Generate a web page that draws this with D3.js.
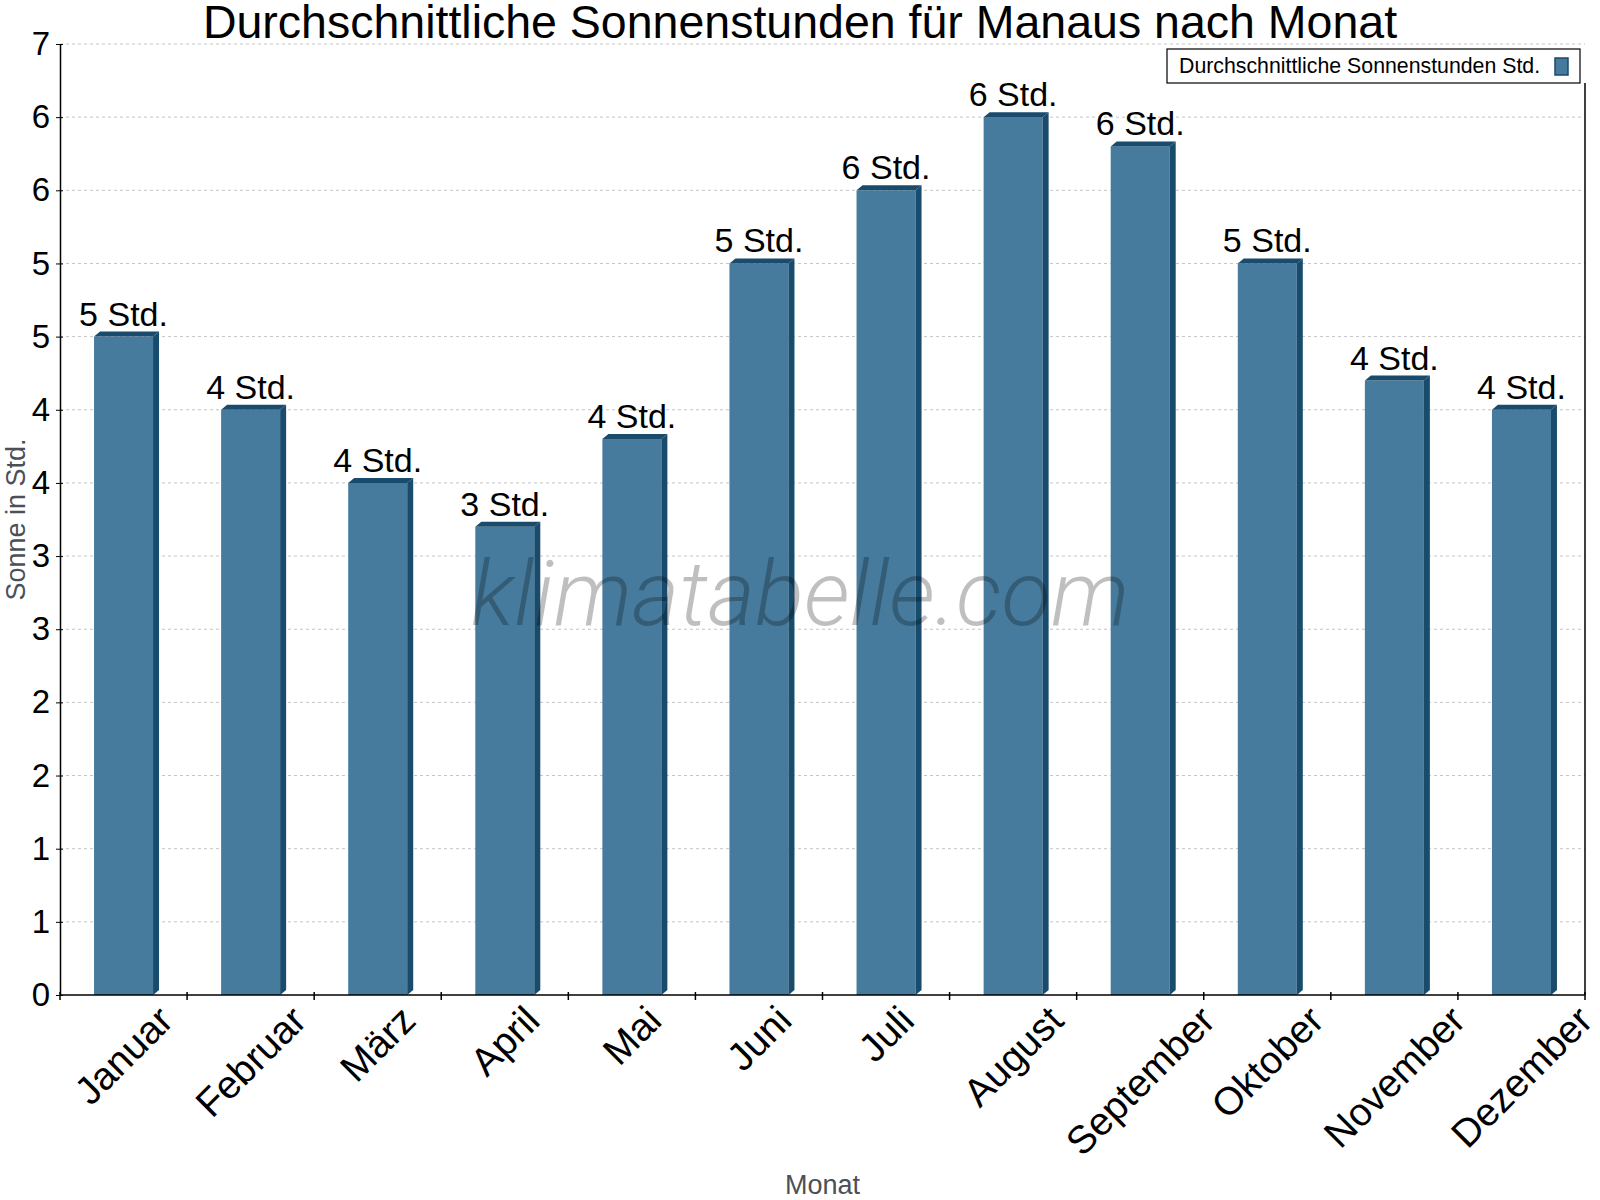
<!DOCTYPE html>
<html>
<head>
<meta charset="utf-8">
<script src="https://cdn.jsdelivr.net/npm/d3@7"></script>
<style>
  body { margin: 0; background: #fff; }
  text { font-family: "Liberation Sans", Arial, sans-serif; }
</style>
</head>
<body>
<svg id="chart"></svg>
<script>
// chart data
const months = ["Januar", "Februar", "März", "April", "Mai", "Juni",
  "Juli", "August", "September", "Oktober", "November", "Dezember"];
const sunHours = [4.5, 4.0, 3.5, 3.2, 3.8, 5.0, 5.5, 6.0, 5.8, 5.0, 4.2, 4.0];
const yTicks = [0, 0.5, 1, 1.5, 2, 2.5, 3, 3.5, 4, 4.5, 5, 5.5, 6, 6.5];
const seriesName = "Durchschnittliche Sonnenstunden Std.";

const width = 1600;
const height = 1200;
const plotLeft = 60, plotRight = 1585, plotTop = 44, plotBottom = 995;
const front = "#467b9d";
const dark = "#194b6c";
const depthX = 6, depthY = 5;

const svg = d3.select("#chart")
  .attr("width", width)
  .attr("height", height)
  .attr("viewBox", [0, 0, width, height]);

// scales
const x = d3.scaleBand().domain(months).range([plotLeft, plotRight]).padding(0);
const xBar = d3.scaleBand().domain(months).range([plotLeft, plotRight])
  .paddingInner(0.5357).paddingOuter(0.26785);
const y = d3.scaleLinear().domain([0, 6.5]).range([plotBottom, plotTop]);

// grid lines
svg.append("g")
  .selectAll("line")
  .data(yTicks.filter(d => d > 0))
  .join("line")
  .attr("x1", plotLeft)
  .attr("x2", plotRight)
  .attr("y1", d => y(d))
  .attr("y2", d => y(d))
  .attr("stroke", "#c4c4c4")
  .attr("stroke-dasharray", "3,3");

// bars with a small 3d look
const bars = svg.append("g")
  .selectAll("g")
  .data(months.map((m, i) => ({ m, v: sunHours[i] })))
  .join("g");

bars.append("rect")
  .attr("x", d => xBar(d.m))
  .attr("y", d => y(d.v))
  .attr("width", xBar.bandwidth())
  .attr("height", d => y(0) - y(d.v))
  .attr("fill", front);

// top face
bars.append("path")
  .attr("fill", dark)
  .attr("d", d => {
    const x0 = xBar(d.m), x1 = x0 + xBar.bandwidth(), yt = y(d.v);
    return `M${x0},${yt}L${x0 + depthX},${yt - depthY}L${x1 + depthX},${yt - depthY}L${x1},${yt}Z`;
  });

// side face
bars.append("path")
  .attr("fill", dark)
  .attr("d", d => {
    const x1 = xBar(d.m) + xBar.bandwidth(), yt = y(d.v), yb = y(0);
    return `M${x1},${yt}L${x1 + depthX},${yt - depthY}L${x1 + depthX},${yb - depthY}L${x1},${yb}Z`;
  });

// value labels
bars.append("text")
  .attr("x", d => x(d.m) + x.bandwidth() / 2)
  .attr("y", d => y(d.v) - 11)
  .attr("text-anchor", "middle")
  .attr("font-size", 34)
  .attr("fill", "#000")
  .text(d => Math.round(d.v) + " Std.");

// y axis
const yAxis = svg.append("g")
  .attr("transform", `translate(${plotLeft},0)`)
  .call(d3.axisLeft(y)
    .tickValues(yTicks)
    .tickFormat(d => Math.round(d))
    .tickSizeInner(4)
    .tickSizeOuter(0)
    .tickPadding(6));
yAxis.select(".domain").attr("stroke", "#000").attr("stroke-width", 1.5);
yAxis.selectAll(".tick line").attr("x1", 3).attr("x2", -4).attr("stroke", "#000");
yAxis.selectAll(".tick text")
  .attr("font-size", 33)
  .attr("font-family", "Liberation Sans, Arial, sans-serif")
  .attr("fill", "#000");

// x axis baseline and category ticks
svg.append("line")
  .attr("x1", plotLeft).attr("x2", plotRight)
  .attr("y1", plotBottom).attr("y2", plotBottom)
  .attr("stroke", "#000").attr("stroke-width", 1.5);
svg.append("line")
  .attr("x1", plotRight).attr("x2", plotRight)
  .attr("y1", 83).attr("y2", plotBottom)
  .attr("stroke", "#000").attr("stroke-width", 1.5);

const boundaries = [plotLeft].concat(months.map(m => x(m) + x.bandwidth()));
svg.append("g")
  .selectAll("line")
  .data(boundaries)
  .join("line")
  .attr("x1", d => d).attr("x2", d => d)
  .attr("y1", plotBottom - 3).attr("y2", plotBottom + 5)
  .attr("stroke", "#000").attr("stroke-width", 1.5);

// rotated month labels, box top aligned under the axis
svg.append("g")
  .selectAll("g")
  .data(months)
  .join("g")
  .each(function (m) {
    const g = d3.select(this);
    g.append("text")
      .attr("text-anchor", "middle")
      .attr("font-size", 39)
      .attr("fill", "#000")
      .attr("transform", "rotate(-45)")
      .text(m);
    const bb = this.getBBox();
    const cx = x(m) + x.bandwidth() / 2;
    g.attr("transform", `translate(${cx - (bb.x + bb.width / 2)},${998 - bb.y})`);
  });

// axis titles
svg.append("text")
  .attr("x", (plotLeft + plotRight) / 2)
  .attr("y", 1194)
  .attr("text-anchor", "middle")
  .attr("font-size", 27)
  .attr("fill", "#4b5058")
  .text("Monat");

svg.append("text")
  .attr("transform", `translate(25,${(plotTop + plotBottom) / 2}) rotate(-90)`)
  .attr("text-anchor", "middle")
  .attr("font-size", 27)
  .attr("fill", "#4b5058")
  .text("Sonne in Std.");

// title
svg.append("text")
  .attr("x", width / 2)
  .attr("y", 38)
  .attr("text-anchor", "middle")
  .attr("font-size", 46.5)
  .attr("fill", "#000")
  .text("Durchschnittliche Sonnenstunden für Manaus nach Monat");

// legend
const legend = svg.append("g");
legend.append("rect")
  .attr("x", 1167).attr("y", 49)
  .attr("width", 413).attr("height", 34)
  .attr("fill", "#fff")
  .attr("stroke", "#000")
  .attr("stroke-width", 1.2);
legend.append("text")
  .attr("x", 1179).attr("y", 73)
  .attr("font-size", 21.3)
  .attr("fill", "#000")
  .text(seriesName);
legend.append("rect")
  .attr("x", 1555).attr("y", 58)
  .attr("width", 13).attr("height", 17)
  .attr("fill", front)
  .attr("stroke", dark)
  .attr("stroke-width", 1.5);

// watermark
svg.append("text")
  .attr("x", 800)
  .attr("y", 625)
  .attr("text-anchor", "middle")
  .attr("font-size", 91)
  .attr("font-style", "italic")
  .attr("font-weight", 300)
  .style("font-family", "Roboto, sans-serif")
  .attr("fill", "rgba(0,0,0,0.25)")
  .text("klimatabelle.com");
</script>
</body>
</html>
